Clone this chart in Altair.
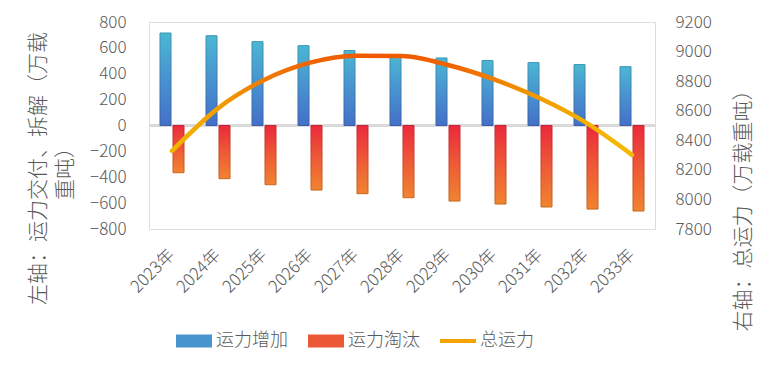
import altair as alt
import pandas as pd

years = ["2023年", "2024年", "2025年", "2026年", "2027年", "2028年",
         "2029年", "2030年", "2031年", "2032年", "2033年"]
added = [715, 694, 648, 617, 579, 540, 522, 502, 486, 471, 455]
retired = [-365, -411, -458, -499, -527, -558, -584, -607, -630, -646, -661]
total = [8328, 8616, 8808, 8925, 8972, 8970, 8909, 8812, 8684, 8519, 8301]
series = ["运力增加", "运力淘汰", "总运力"]
left_ticks = [-800, -600, -400, -200, 0, 200, 400, 600, 800]
right_ticks = [7800, 8000, 8200, 8400, 8600, 8800, 9000, 9200]

df = pd.DataFrame({"year": years, "added": added, "retired": retired, "total": total})
legend_df = pd.DataFrame({"s": series})

FONT = "Noto Sans CJK SC"
GREY = "#595959"
W = 300

x_enc = alt.X(
    "year:N", sort=years,
    scale=alt.Scale(type="band", paddingInner=0, paddingOuter=0),
    axis=alt.Axis(title=None, labelAngle=-45, labelAlign="right", labelBaseline="middle",
                  labelPadding=23, domain=False, ticks=False, grid=False,
                  labelFont=FONT, labelFontSize=17, labelColor=GREY, labelFontWeight=W),
)

left_scale = alt.Scale(domain=[-800, 800], nice=False)
left_axis = alt.Axis(
    title=["左轴：运力交付、拆解（万载", "重吨）"], values=left_ticks, format="d",
    domain=False, ticks=False, grid=False, labelPadding=23,
    labelFont=FONT, labelFontSize=17, labelColor=GREY, labelFontWeight=W,
    titleFont=FONT, titleFontSize=21, titleColor=GREY, titleFontWeight=W,
    titleAngle=270, titleAlign="center", titleBaseline="middle", titleLineHeight=27,
    titleX=-111, titleY=146,
)

blue_fill = alt.Gradient(gradient="linear", x1=0, x2=0, y1=0, y2=1, stops=[
    alt.GradientStop(color="#4BB7D1", offset=0),
    alt.GradientStop(color="#4892D0", offset=0.5),
    alt.GradientStop(color="#4470C8", offset=1)])
blue_stroke = alt.Gradient(gradient="linear", x1=0, x2=0, y1=0, y2=1, stops=[
    alt.GradientStop(color="#3A96B4", offset=0),
    alt.GradientStop(color="#3A5EA8", offset=1)])
red_fill = alt.Gradient(gradient="linear", x1=0, x2=0, y1=0, y2=1, stops=[
    alt.GradientStop(color="#EA2A3C", offset=0),
    alt.GradientStop(color="#EE5A36", offset=0.5),
    alt.GradientStop(color="#F08430", offset=1)])
red_stroke = alt.Gradient(gradient="linear", x1=0, x2=0, y1=0, y2=1, stops=[
    alt.GradientStop(color="#C82232", offset=0),
    alt.GradientStop(color="#C8661E", offset=1)])
line_stroke = alt.Gradient(gradient="linear", x1=0, x2=1, y1=0, y2=0, stops=[
    alt.GradientStop(color="#F2B600", offset=0),
    alt.GradientStop(color="#F29E00", offset=0.1),
    alt.GradientStop(color="#F07A00", offset=0.2),
    alt.GradientStop(color="#F06400", offset=0.3),
    alt.GradientStop(color="#F05800", offset=0.45),
    alt.GradientStop(color="#F06200", offset=0.6),
    alt.GradientStop(color="#F07E00", offset=0.7),
    alt.GradientStop(color="#F29C00", offset=0.8),
    alt.GradientStop(color="#F3B000", offset=0.9),
    alt.GradientStop(color="#F5B800", offset=1)])

zero_rule = alt.Chart(df).mark_rule(color="#D9D9D9", strokeWidth=2).encode(
    y=alt.Y("z:Q", scale=left_scale, axis=left_axis)
).transform_calculate(z="0")

blue = alt.Chart(df).mark_bar(size=11, xOffset=-6.5, fill=blue_fill, stroke=blue_stroke,
                              strokeWidth=1).encode(
    x=x_enc, y=alt.Y("added:Q", scale=left_scale, axis=left_axis))

red = alt.Chart(df).mark_bar(size=11, xOffset=6.5, fill=red_fill, stroke=red_stroke,
                             strokeWidth=1).encode(
    x=x_enc, y=alt.Y("retired:Q", scale=left_scale, axis=left_axis))

rect_path = "M-1,-0.36H1V0.36H-1Z"
line_path = "M-1,-0.11H1V0.11H-1Z"
leg = alt.Legend(title=None, orient="none", legendX=27, legendY=301, direction="horizontal",
                 symbolSize=1296, labelOffset=4, columnPadding=20, padding=0,
                 labelFont=FONT, labelFontSize=18, labelColor=GREY, labelFontWeight=W,
                 symbolStrokeWidth=0)
legend_layer = alt.Chart(legend_df).transform_filter("datum.s == 'none'").mark_point(
    filled=True, opacity=1).encode(
    color=alt.Color("s:N", scale=alt.Scale(domain=series,
                                           range=["#4894CE", "#EC5836", "#F3A200"]), legend=leg),
    shape=alt.Shape("s:N", scale=alt.Scale(domain=series,
                                           range=[rect_path, rect_path, line_path]), legend=leg),
)

bars = alt.layer(zero_rule, blue, red, legend_layer)

line = alt.Chart(df).mark_line(strokeWidth=4.5, interpolate="monotone", stroke=line_stroke,
                               strokeCap="round").encode(
    x=x_enc,
    y=alt.Y("total:Q", scale=alt.Scale(domain=[7800, 9200], nice=False),
            axis=alt.Axis(orient="right", title="右轴：总运力（万载重吨）", values=right_ticks,
                          format="d", domain=False, ticks=False, grid=False, labelPadding=20,
                          labelFont=FONT, labelFontSize=17, labelColor=GREY, labelFontWeight=W,
                          titleFont=FONT, titleFontSize=21, titleColor=GREY,
                          titleFontWeight=W, titleAngle=270, titleAlign="center",
                          titleBaseline="middle", titleX=88, titleY=183)),
)

chart = alt.layer(bars, line).resolve_scale(y="independent").properties(
    width=506, height=207,
    autosize=alt.AutoSizeParams(type="none"),
    padding={"left": 141, "top": 14, "right": 109, "bottom": 126},
).configure_view(stroke=None).configure(font=FONT)

chart.save("out.html", embed_options={"renderer": "svg", "actions": False})
